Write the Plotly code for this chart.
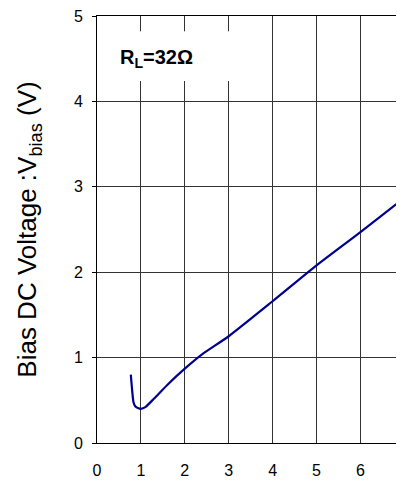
import plotly.graph_objects as go

# Data
x_vals = [0.77, 0.80, 0.83, 0.87, 0.93, 1.0, 1.1, 1.3, 1.6, 2.0, 2.4, 3.0, 4.0, 5.0, 6.0, 7.0]
v_bias = [0.80, 0.62, 0.48, 0.43, 0.41, 0.40, 0.42, 0.52, 0.68, 0.87, 1.04, 1.25, 1.66, 2.08, 2.47, 2.87]
x_ticks = [0, 1, 2, 3, 4, 5, 6, 7]
y_ticks = [0, 1, 2, 3, 4, 5]
label_text = "R<sub>L</sub>=32Ω"
y_title = "Bias DC Voltage :V<sub>bias</sub> (V)"

fig = go.Figure()
fig.add_trace(go.Scatter(x=x_vals, y=v_bias, mode="lines",
                         line=dict(color="#00008f", width=2.2, shape="spline", smoothing=0.6),
                         showlegend=False, hoverinfo="skip", cliponaxis=True))

# white box behind the label, over the gridlines
fig.add_shape(type="rect", xref="x", yref="y", x0=0.02, x1=3.5, y0=4.24, y1=4.82,
              fillcolor="white", line=dict(width=0), layer="above")
fig.add_annotation(x=1.36, y=4.5, xref="x", yref="y", text="<b>" + label_text + "</b>",
                   showarrow=False, font=dict(family="Liberation Sans, Arial", size=20, color="black"))

fig.update_layout(
    width=388, height=470,
    margin=dict(l=89, r=0, t=8, b=35, autoexpand=False),
    paper_bgcolor="white", plot_bgcolor="white",
    font=dict(family="Liberation Sans, Arial", color="black"),
    xaxis=dict(range=[0, 6.81], tickvals=x_ticks, showgrid=True, gridcolor="#333", gridwidth=1,
               showline=True, linecolor="black", linewidth=1, mirror=True, automargin=False,
               ticks="", ticklabelstandoff=13, tickfont=dict(size=16), zeroline=False,
               ticklabeloverflow="allow"),
    yaxis=dict(range=[0, 5], tickvals=y_ticks, showgrid=True, gridcolor="#333", gridwidth=1,
               showline=True, linecolor="black", linewidth=1, mirror=True, automargin=False,
               ticks="outside", ticklen=4, tickcolor="black", ticklabelstandoff=6,
               tickfont=dict(size=16), zeroline=False, ticklabeloverflow="allow",
               title=dict(text=y_title, font=dict(size=26), standoff=29)),
)

fig.write_html("out.html")
